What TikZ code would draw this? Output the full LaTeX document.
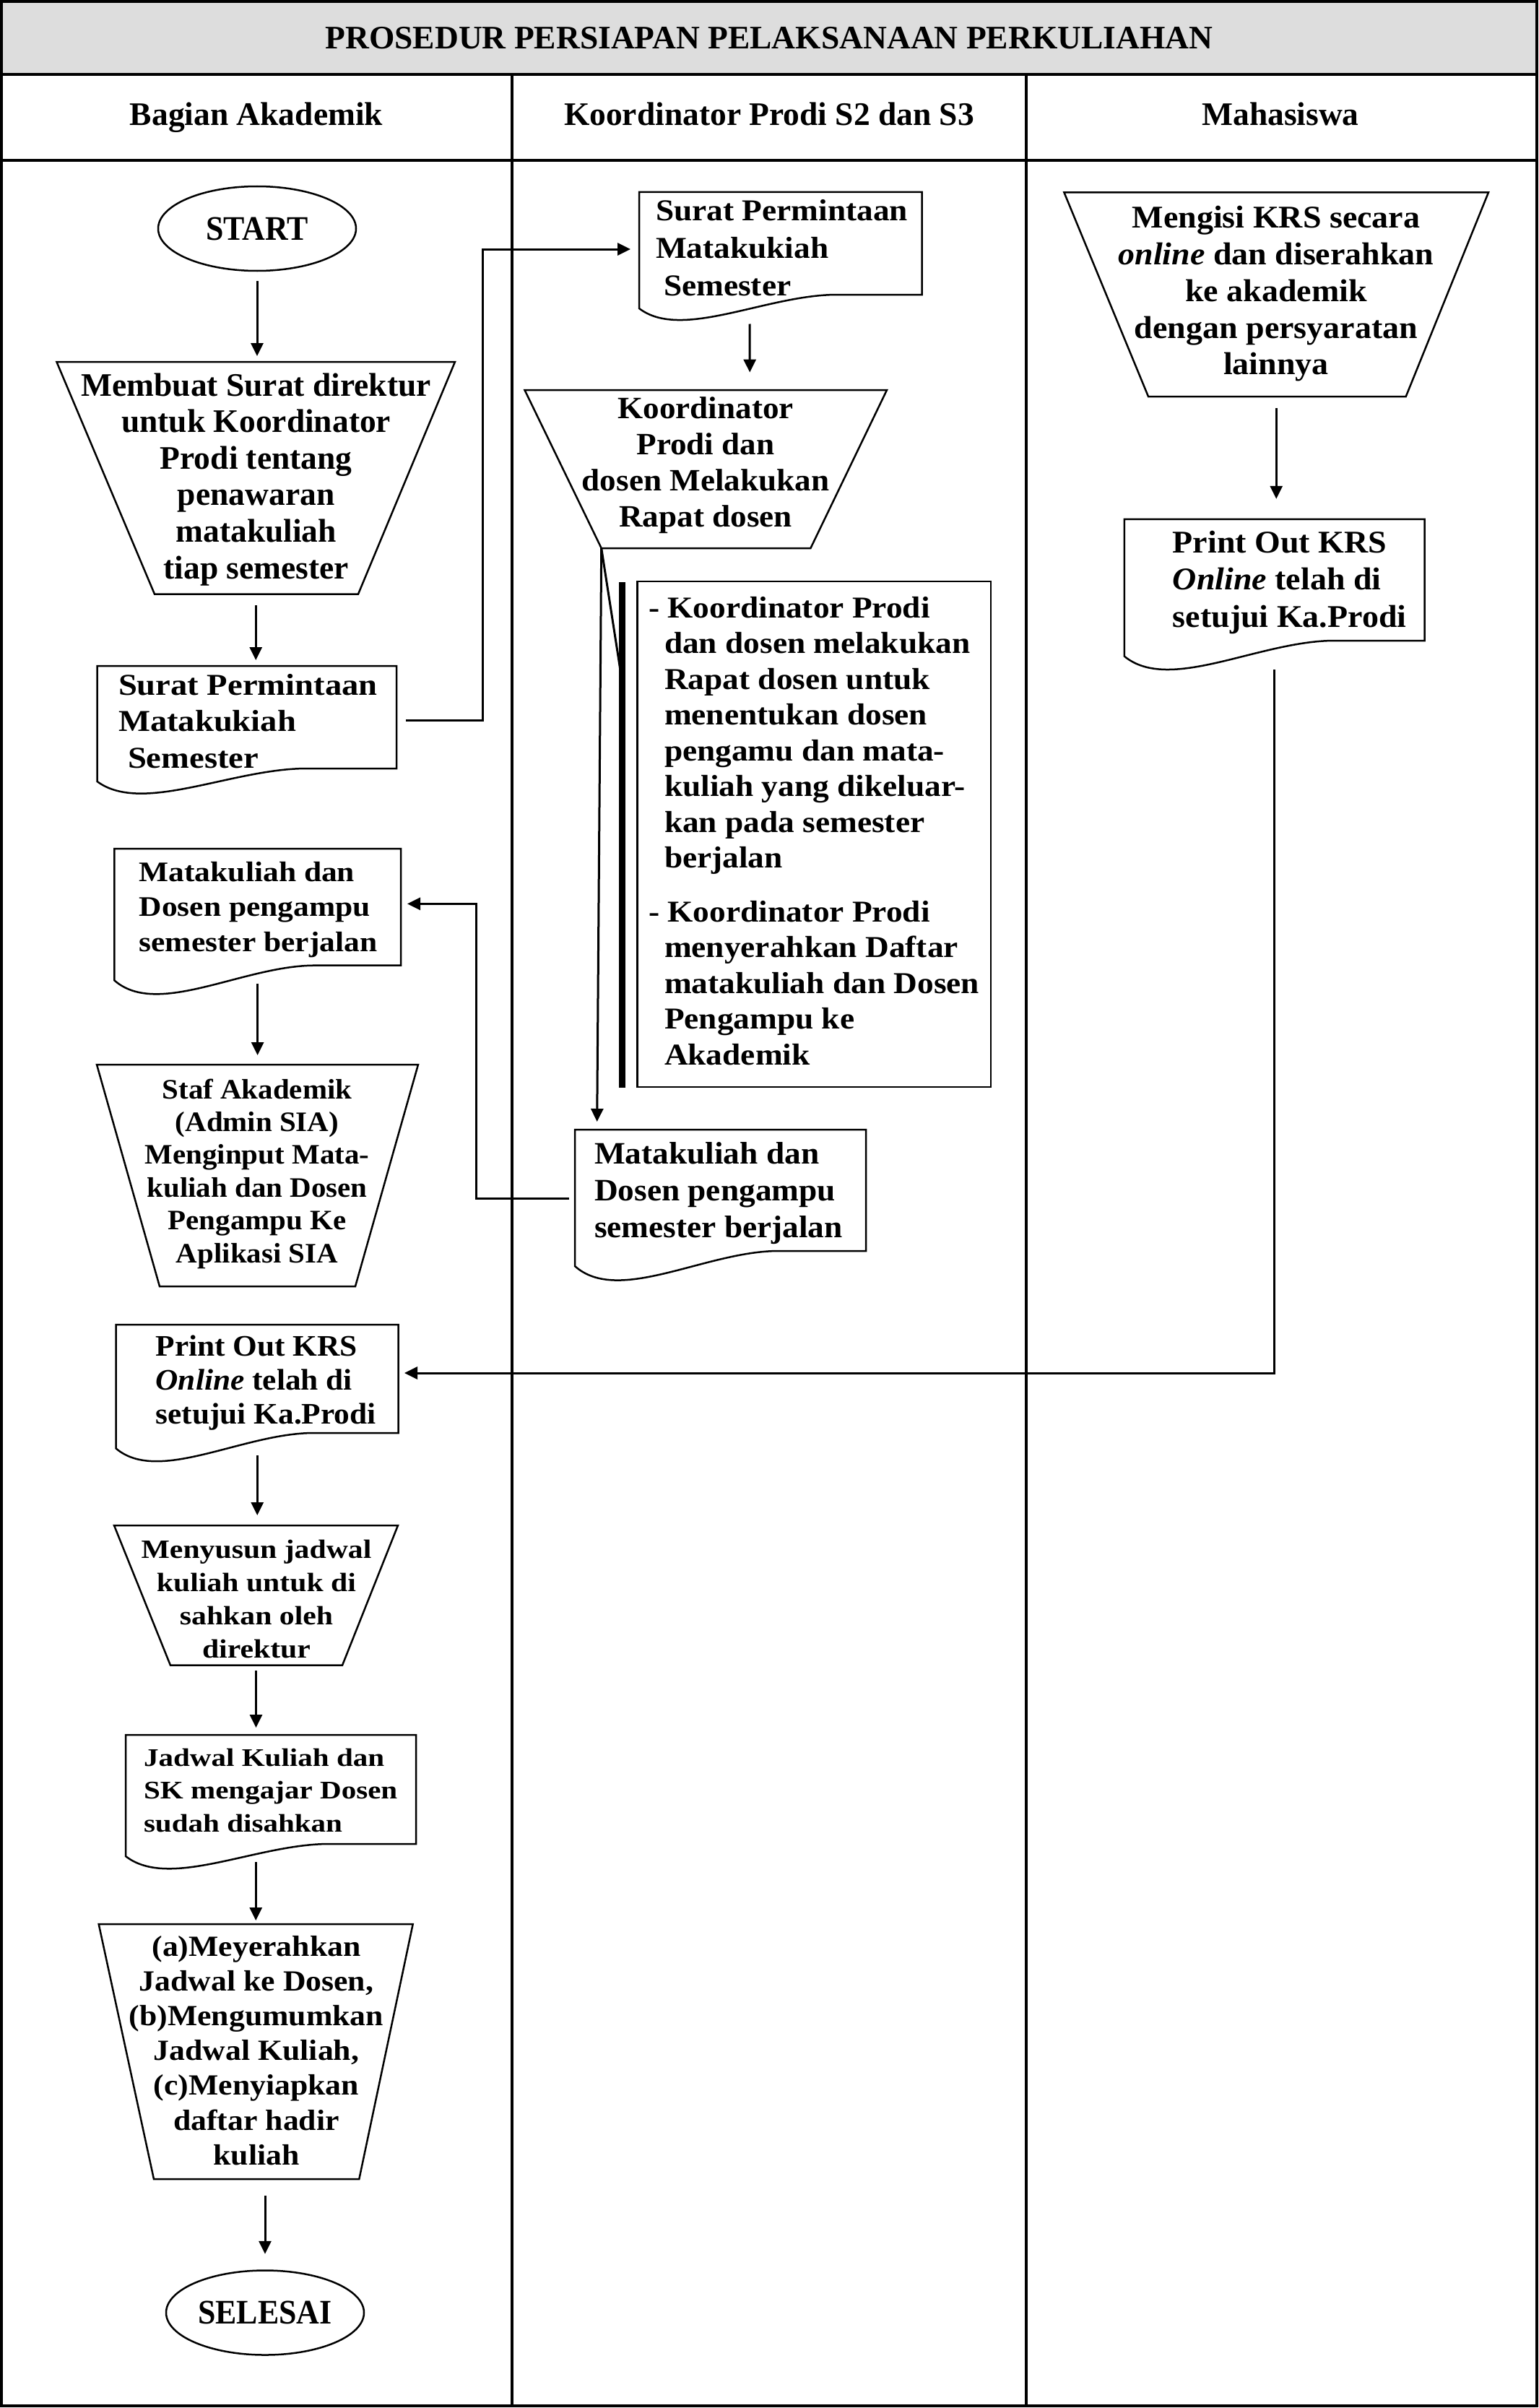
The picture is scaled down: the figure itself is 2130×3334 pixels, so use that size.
\documentclass[tikz,border=0pt]{standalone}
\usepackage{fontspec}
\setmainfont{Liberation Serif}
\newfontfamily\FtA[FakeStretch=0.92]{Liberation Serif}
\newfontfamily\FtB{Liberation Serif}
\newfontfamily\FtC[FakeStretch=1.05]{Liberation Serif}
\newfontfamily\FtD[FakeStretch=1.08]{Liberation Serif}
\newfontfamily\FtE[FakeStretch=1.11]{Liberation Serif}
\newfontfamily\FtF[FakeStretch=1.14]{Liberation Serif}
\newfontfamily\FtG[FakeStretch=1.17]{Liberation Serif}
\usetikzlibrary{arrows.meta,calc,shapes.geometric}
\definecolor{titlegrey}{RGB}{221,221,221}
\newcommand\fsz[3]{#1\bfseries\fontsize{#2}{#3}\selectfont}
% document shape: name, x0, y0, W, hR, hL, dip
\newcommand\docshape[7]{%
  \node[shapebox, anchor=north west, minimum width=#4pt, minimum height=#7pt] (#1) at (#2,#3) {};
  \draw[shapeline] (#1.north west) -- (#1.north east) -- ($(#1.north west)+(#4,#5)$)
    -- ($(#1.north west)+({0.7*#4},#5)$)
    .. controls ($(#1.north west)+({0.45*#4},#5)$) and ($(#1.north west)+({0.15*#4},{#5+1.83*(#7-#5)})$)
    .. ($(#1.north west)+(0,#6)$) -- cycle;}
% trapezoid: name, topY, topL, topR, botY, botL, botR
\newcommand\trapshape[7]{%
  \node[shapebox, anchor=north west, minimum width={(#4)-(#3)}, minimum height={(#5)-(#2)}] (#1) at (#3,#2) {};
  \draw[shapeline] (#3,#2) -- (#4,#2) -- (#7,#5) -- (#6,#5) -- cycle;}
\tikzset{
  frame/.style={line width=4pt},
  shapeline/.style={line width=2.5pt, line join=miter},
  shapebox/.style={inner sep=0pt, outer sep=0pt, draw=none},
  arr/.style={line width=3pt, -{Triangle[length=18pt,width=17pt]}},
  conn/.style={line width=3pt},
  txt/.style={inner sep=0pt, outer sep=0pt},
  term/.style={ellipse, draw, line width=2.5pt, inner sep=0pt, minimum width=274pt, minimum height=117pt, font=\fsz{\FtA}{47.7}{52}}
}
\begin{document}
\begin{tikzpicture}[x=1pt,y=-1pt]
\useasboundingbox (0,0) rectangle (2130,3334);
% frame
\fill[titlegrey] (2,2) rectangle (2128,103);
\draw[frame] (2,2) rectangle (2128,3331);
\draw[frame] (2,103) -- (2128,103);
\draw[frame] (2,222) -- (2128,222);
\draw[frame] (709,103) -- (709,3331);
\draw[frame] (1421,103) -- (1421,3331);
% title and headers
\node[txt, anchor=base, font=\fsz{\FtB}{45.5}{50}] (title) at (1065,68) {PROSEDUR PERSIAPAN PELAKSANAAN PERKULIAHAN};
\node[txt, anchor=base, font=\fsz{\FtB}{45.5}{50}] (h1) at (355,174) {Bagian Akademik};
\node[txt, anchor=base, font=\fsz{\FtB}{45.5}{50}] (h2) at (1065,174) {Koordinator Prodi S2 dan S3};
\node[txt, anchor=base, font=\fsz{\FtB}{45.5}{50}] (h3) at (1773,174) {Mahasiswa};

% ---------- Bagian Akademik ----------
\node[term] (start) at (356,316.5) {START};
\trapshape{membuat}{501}{78.4}{630}{822.5}{214}{496}
\node[txt, anchor=north, align=center, font=\fsz{\FtB}{45.5}{50.6}] (membuat-t) at (354.7,512.6)
  {\strut Membuat Surat direktur\\untuk Koordinator\\Prodi tentang\\penawaran\\matakuliah\\tiap semester\strut};
\docshape{lsurat}{134.6}{922}{414.4}{142}{160}{177}
\node[txt, anchor=north west, align=left, font=\fsz{\FtE}{42}{50.2}] (lsurat-t) at (164,927.6)
  {\strut Surat Permintaan\\Matakukiah\\\hspace*{13pt}Semester\strut};
\docshape{lmata}{158.3}{1175}{396.7}{161.7}{182.3}{201.7}
\node[txt, anchor=north west, align=left, font=\fsz{\FtE}{39.2}{48.2}] (lmata-t) at (192.6,1187)
  {\strut Matakuliah dan\\Dosen pengampu\\semester berjalan\strut};
\trapshape{staf}{1474}{134}{579}{1781}{221}{492}
\node[txt, anchor=north, align=center, font=\fsz{\FtC}{39}{45.4}] (staf-t) at (356,1489.2)
  {\strut Staf Akademik\\(Admin SIA)\\Menginput Mata-\\kuliah dan Dosen\\Pengampu Ke\\Aplikasi SIA\strut};
\docshape{lprint}{160.7}{1834}{391}{150}{171.5}{189}
\node[txt, anchor=north west, align=left, font=\fsz{\FtC}{41.3}{47}] (lprint-t) at (215.6,1845)
  {\strut Print Out KRS\\\textit{Online} telah di\\setujui Ka.Prodi\strut};
\trapshape{menyusun}{2112}{158}{551}{2305.7}{236}{474}
\node[txt, anchor=north, align=center, font=\fsz{\FtF}{36.6}{46.3}] (menyusun-t) at (355,2124.6)
  {\strut Menyusun jadwal\\kuliah untuk di\\sahkan oleh\\direktur\strut};
\docshape{jadwal}{174}{2402}{402}{151}{168}{186}
\node[txt, anchor=north west, align=left, font=\fsz{\FtG}{35.1}{45.8}] (jadwal-t) at (199,2413)
  {\strut Jadwal Kuliah dan\\SK mengajar Dosen\\sudah disahkan\strut};
\trapshape{atrap}{2664}{136.7}{571.7}{3017}{213}{497.3}
\node[txt, anchor=north, align=center, font=\fsz{\FtD}{40.5}{48.2}] (atrap-t) at (355,2674.3)
  {\strut (a)Meyerahkan\\Jadwal ke Dosen,\\(b)Mengumumkan\\Jadwal Kuliah,\\(c)Menyiapkan\\daftar hadir\\kuliah\strut};
\node[term] (selesai) at (367,3202) {SELESAI};

% ---------- Koordinator Prodi ----------
\docshape{msurat}{885}{266}{391.5}{142}{161}{177}
\node[txt, anchor=north west, align=left, font=\fsz{\FtD}{42}{51.7}] (msurat-t) at (908,269.8)
  {\strut Surat Permintaan\\Matakukiah\\\hspace*{11pt}Semester\strut};
\trapshape{koord}{540}{726.5}{1228}{759}{832.7}{1122.4}
\node[txt, anchor=north, align=center, font=\fsz{\FtC}{43}{50}] (koord-t) at (977,544)
  {\strut Koordinator\\Prodi dan\\dosen Melakukan\\Rapat dosen\strut};
\coordinate (koordbl) at ([xshift=106.2pt]koord.south west);
\node[fill=black, inner sep=0pt, outer sep=0pt, minimum width=9pt, minimum height=700pt, anchor=north] (bar) at (861,806) {};
\node[draw, line width=2.5pt, inner sep=0pt, outer sep=0pt, minimum width=489.3pt, minimum height=700pt, anchor=north west] (note) at (882.7,805) {};
\node[txt, anchor=north west, align=left, font=\fsz{\FtD}{42}{49.5}] (note-t) at (898,820.4)
  {\strut - Koordinator Prodi\\\hspace*{22pt}dan dosen melakukan\\\hspace*{22pt}Rapat dosen untuk\\\hspace*{22pt}menentukan dosen\\\hspace*{22pt}pengamu dan mata-\\\hspace*{22pt}kuliah yang dikeluar-\\\hspace*{22pt}kan pada semester\\\hspace*{22pt}berjalan\\[25pt]- Koordinator Prodi\\\hspace*{22pt}menyerahkan Daftar\\\hspace*{22pt}matakuliah dan Dosen\\\hspace*{22pt}Pengampu ke\\\hspace*{22pt}Akademik\strut};
\docshape{mmata}{796}{1564}{403}{168}{189}{209}
\node[txt, anchor=north west, align=left, font=\fsz{\FtC}{43.2}{50.7}] (mmata-t) at (823,1576.2)
  {\strut Matakuliah dan\\Dosen pengampu\\semester berjalan\strut};

% ---------- Mahasiswa ----------
\trapshape{mengisi}{266.4}{1473.4}{2061}{549}{1590}{1946.7}
\node[txt, anchor=north, align=center, font=\fsz{\FtC}{43.8}{50.85}] (mengisi-t) at (1767,280)
  {\strut Mengisi KRS secara\\\textit{online} dan diserahkan\\ke akademik\\dengan persyaratan\\lainnya\strut};
\docshape{rprint}{1556.8}{718.8}{415.7}{168.2}{189.8}{208.2}
\node[txt, anchor=north west, align=left, font=\fsz{\FtC}{43.8}{51.5}] (rprint-t) at (1623.8,729)
  {\strut Print Out KRS\\\textit{Online} telah di\\setujui Ka.Prodi\strut};

% ---------- connectors ----------
\draw[arr, shorten <=13pt, shorten >=8pt] (start.south) -- (start.south |- membuat.north);
\draw[arr, shorten <=15.5pt, shorten >=8pt] (membuat.south) -- (membuat.south |- lsurat.north);
\draw[arr, shorten >=13pt] ([yshift=15pt]lmata.south) -- (lmata.south |- staf.north);
\draw[arr, shorten >=14pt] ([yshift=8pt]lprint.south) -- (lprint.south |- menyusun.north);
\draw[arr, shorten <=7.3pt, shorten >=10pt] (menyusun.south) -- (menyusun.south |- jadwal.north);
\draw[arr, shorten >=5pt] ([yshift=10pt]jadwal.south -| atrap.north) -- (atrap.north);
\draw[arr, shorten <=23pt, shorten >=21.5pt] (atrap.south -| selesai.north) -- (selesai.north);
\draw[arr] ([xshift=13pt,yshift=13.5pt]lsurat.east) -| ([xshift=-217pt,yshift=9.5pt]msurat.west) -- ([xshift=-12pt,yshift=9.5pt]msurat.west);
\draw[arr] ([xshift=-42.75pt,yshift=-5.5pt]msurat.south) -- ([xshift=61pt,yshift=24.4pt]koord.north);
\draw[arr] (koordbl) -- ([xshift=30.7pt,yshift=11pt]mmata.north west);
\draw[conn] (koordbl) -- ([yshift=-135pt]bar.north);
\draw[arr] ([xshift=-8pt,yshift=9.5pt]mmata.west) -| ([xshift=104pt,yshift=24.5pt]lmata.east) -- ([xshift=9pt,yshift=24.5pt]lmata.east);
\draw[arr, shorten <=16pt, shorten >=28pt] (mengisi.south) -- (mengisi.south |- rprint.north);
\draw[arr] (rprint.south) |- ([xshift=8.3pt,yshift=27.5pt]lprint.east);
\end{tikzpicture}
\end{document}
